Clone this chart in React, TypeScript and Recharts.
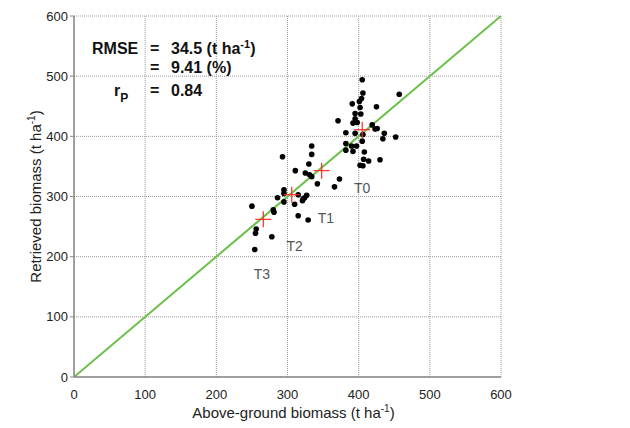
import React from 'react';
import {
  ScatterChart,
  Scatter,
  XAxis,
  YAxis,
  CartesianGrid,
  ReferenceLine,
} from 'recharts';

// measured vs retrieved biomass, one entry per plot
const measured = [
  405, 406, 457, 404, 401, 391, 425, 402, 395, 403, 371, 395, 392, 398, 419,
  423, 426, 382, 395, 406, 436, 434, 452, 405, 382, 390, 397, 382, 392, 408,
  407, 414, 430, 402, 406, 334, 334, 293, 330, 311, 325, 331, 334, 373, 342,
  366, 295, 295, 286, 315, 327, 324, 321, 295, 310, 250, 280, 281, 315, 329,
  256, 255, 278, 254, 322,
];
const retrieved = [
  494, 472, 470, 463, 458, 454, 449, 448, 438, 437, 426, 429, 422, 423, 419,
  412, 413, 406, 405, 403, 405, 396, 399, 392, 388, 384, 384, 377, 375, 374,
  362, 359, 361, 352, 351, 384, 370, 366, 354, 343, 339, 336, 333, 329, 321,
  316, 311, 305, 298, 303, 302, 298, 293, 291, 287, 284, 278, 274, 268, 261,
  246, 239, 233, 212, 296,
];

// treatment means
const groups = ['T0', 'T1', 'T2', 'T3'];
const meanMeasured = [405, 348, 306, 266];
const meanRetrieved = [411, 343, 303, 262];
const labelX = [405, 354, 310, 264];
const labelY = [314, 265, 218, 172];

const ticks = [0, 100, 200, 300, 400, 500, 600];

const points = measured.map((x, i) => ({ x, y: retrieved[i] }));
const means = groups.map((g, i) => ({ x: meanMeasured[i], y: meanRetrieved[i], g }));
const tags = groups.map((g, i) => ({ x: labelX[i], y: labelY[i], g }));

const FONT = '"Liberation Sans", Arial, sans-serif';

const Cross = (props: any) => {
  const { cx, cy } = props;
  return (
    <g>
      <line x1={cx - 8} x2={cx + 8} y1={cy} y2={cy} stroke="#ff2a2a" strokeWidth={1.2} />
      <line x1={cx} x2={cx} y1={cy - 8} y2={cy + 8} stroke="#ff2a2a" strokeWidth={1.2} />
    </g>
  );
};

const Tag = (props: any) => {
  const { cx, cy, payload } = props;
  return (
    <text x={cx} y={cy} textAnchor="middle" dominantBaseline="central" fontSize={14} fill="#555" fontFamily={FONT}>
      {payload.g}
    </text>
  );
};

const XTitle = (props: any) => {
  const { viewBox } = props;
  const cx = viewBox.x + viewBox.width / 2 + 6;
  return (
    <text x={cx} y={418} textAnchor="middle" fontSize={15} fill="#222" fontFamily={FONT}>
      Above-ground biomass (t ha<tspan dy={-6} fontSize={10}>-1</tspan>
      <tspan dy={6}>)</tspan>
    </text>
  );
};

const YTitle = (props: any) => {
  const { viewBox } = props;
  const cy = viewBox.y + viewBox.height / 2;
  return (
    <text
      x={41}
      y={cy}
      transform={`rotate(-90 41 ${cy})`}
      textAnchor="middle"
      fontSize={15}
      fill="#222"
      fontFamily={FONT}
    >
      Retrieved biomass (t ha<tspan dy={-6} fontSize={10}>-1</tspan>
      <tspan dy={6}>)</tspan>
    </text>
  );
};

export default function App() {
  return (
    <div style={{ position: 'absolute', left: 0, top: 0, width: 630, height: 428, background: '#fff' }}>
      <ScatterChart width={630} height={428} margin={{ top: 16, right: 129, bottom: 21, left: 0 }}>
        <CartesianGrid stroke="#999" strokeDasharray="1 1" />
        <XAxis
          type="number"
          dataKey="x"
          domain={[0, 600]}
          ticks={ticks}
          height={30}
          tickSize={0}
          tickMargin={13}
          axisLine={{ stroke: '#888', strokeWidth: 1.5 }}
          tick={{ fontSize: 13, fill: '#222', fontFamily: FONT }}
          label={<XTitle />}
        />
        <YAxis
          type="number"
          dataKey="y"
          domain={[0, 600]}
          ticks={ticks}
          width={74}
          tickSize={4}
          tickMargin={2}
          axisLine={{ stroke: '#888', strokeWidth: 1.5 }}
          tickLine={{ stroke: '#888' }}
          tick={{ fontSize: 13, fill: '#222', fontFamily: FONT }}
          label={<YTitle />}
        />
        <ReferenceLine
          segment={[{ x: 0, y: 0 }, { x: 600, y: 600 }]}
          stroke="#6cc04a"
          strokeWidth={2}
          ifOverflow="hidden"
        />
        <Scatter data={points} fill="#000" isAnimationActive={false} shape={(p: any) => <circle cx={p.cx} cy={p.cy} r={2.8} fill="#000" />} />
        <Scatter data={means} isAnimationActive={false} shape={<Cross />} />
        <Scatter data={tags} isAnimationActive={false} shape={<Tag />} />
      </ScatterChart>
      <svg width={630} height={428} style={{ position: 'absolute', left: 0, top: 0, pointerEvents: 'none' }}>
        <g fontFamily={FONT} fontWeight="bold" fontSize={16} fill="#111">
          <text x={92} y={54}>RMSE</text>
          <text x={150} y={54}>=</text>
          <text x={171} y={54}>
            34.5 (t ha<tspan dy={-6} fontSize={11}>-1</tspan>
            <tspan dy={6}>)</tspan>
          </text>
          <text x={150} y={73}>=</text>
          <text x={171} y={73}>9.41 (%)</text>
          <text x={114} y={96}>
            r<tspan dy={6} fontSize={12}>P</tspan>
          </text>
          <text x={150} y={96}>=</text>
          <text x={171} y={96}>0.84</text>
        </g>
      </svg>
    </div>
  );
}
